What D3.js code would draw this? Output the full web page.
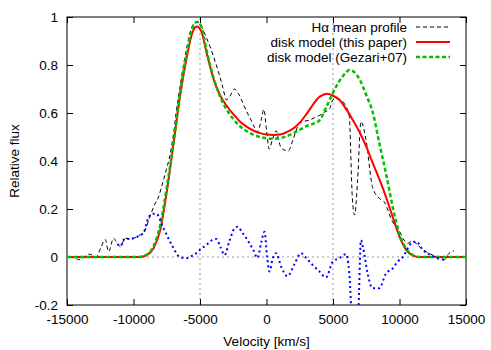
<!DOCTYPE html>
<html>
<head>
<meta charset="utf-8">
<script src="https://cdn.jsdelivr.net/npm/d3@7"></script>
<style>
  body { margin: 0; background: #fff; }
  text { font-family: "Liberation Sans", Arial, sans-serif; font-size: 13.5px; fill: #000; }
</style>
</head>
<body>
<script>
// values: [velocity km/s, relative flux]
const halpha = [
  [-14800, 0], [-14400, -0.005], [-14000, -0.012], [-13700, 0], [-13375, 0.012], [-13100, 0.008],
  [-12800, 0], [-12450, 0.04], [-12125, 0.073], [-11875, 0.022], [-11500, 0.078], [-11250, 0.06],
  [-11000, 0.043], [-10625, 0.078], [-10300, 0.075], [-10000, 0.078], [-9600, 0.09], [-9250, 0.1],
  [-9000, 0.13], [-8750, 0.17], [-8400, 0.22], [-8125, 0.25], [-7800, 0.31], [-7500, 0.37],
  [-7275, 0.42], [-7000, 0.51], [-6775, 0.61], [-6500, 0.71], [-6275, 0.79], [-6000, 0.87],
  [-5775, 0.93], [-5500, 0.97], [-5200, 0.98], [-4900, 0.96], [-4525, 0.915], [-4200, 0.87],
  [-3775, 0.8], [-3500, 0.75], [-3275, 0.705], [-3025, 0.655], [-2750, 0.67], [-2400, 0.7],
  [-2100, 0.68], [-1800, 0.645], [-1525, 0.61], [-1200, 0.575], [-900, 0.54], [-675, 0.52],
  [-400, 0.57], [-200, 0.615], [0, 0.53], [200, 0.45], [450, 0.49], [725, 0.526], [900, 0.49],
  [1100, 0.454], [1400, 0.445], [1650, 0.443], [2000, 0.49], [2475, 0.556], [2800, 0.565],
  [3225, 0.57], [3600, 0.58], [3975, 0.59], [4400, 0.605], [4725, 0.615], [4975, 0.654],
  [5200, 0.66], [5475, 0.657], [5850, 0.64], [6000, 0.625], [6225, 0.585], [6450, 0.25],
  [6625, 0.175], [6850, 0.32], [7100, 0.564], [7475, 0.49], [7975, 0.29], [8475, 0.245],
  [8850, 0.23], [9475, 0.147], [9975, 0.11], [10350, 0.07], [10600, 0.057], [11000, 0.068],
  [11350, 0.05], [11700, 0.035], [12000, 0.022], [12500, 0.008], [13000, 0], [13350, -0.012],
  [13725, 0.015], [14100, 0.026]
];

const diskThis = [
  [-15000, 0], [-9500, 0], [-9000, 0.008], [-8500, 0.035], [-8000, 0.11], [-7500, 0.27],
  [-7000, 0.47], [-6500, 0.67], [-6000, 0.83], [-5600, 0.93], [-5250, 0.96], [-4900, 0.94],
  [-4500, 0.85], [-4000, 0.745], [-3500, 0.675], [-3000, 0.63], [-2500, 0.595], [-2000, 0.565],
  [-1500, 0.543], [-1000, 0.527], [-500, 0.516], [0, 0.51], [500, 0.508], [1000, 0.51],
  [1500, 0.52], [2000, 0.535], [2500, 0.56], [3000, 0.595], [3500, 0.635], [4000, 0.668],
  [4600, 0.68], [5000, 0.672], [5500, 0.654], [6000, 0.615], [6500, 0.57], [7000, 0.52],
  [7500, 0.46], [8000, 0.39], [8500, 0.322], [9000, 0.248], [9500, 0.165], [10000, 0.085],
  [10500, 0.03], [11000, 0.007], [11500, 0], [15000, 0]
];

const diskGezari = [
  [-15000, 0], [-9600, 0], [-9000, 0.01], [-8500, 0.045], [-8000, 0.13], [-7500, 0.29],
  [-7000, 0.47], [-6500, 0.68], [-6000, 0.85], [-5600, 0.95], [-5200, 0.98], [-4900, 0.96],
  [-4500, 0.86], [-4000, 0.75], [-3500, 0.67], [-3000, 0.615], [-2500, 0.575], [-2000, 0.545],
  [-1500, 0.525], [-1000, 0.51], [-500, 0.5], [0, 0.495], [500, 0.493], [1000, 0.495],
  [1500, 0.503], [2000, 0.515], [2500, 0.53], [3000, 0.545], [3500, 0.555], [4000, 0.57],
  [4500, 0.625], [5000, 0.685], [5500, 0.735], [6000, 0.77], [6250, 0.78], [6600, 0.77],
  [7000, 0.74], [7500, 0.675], [8000, 0.6], [8500, 0.47], [9000, 0.345], [9500, 0.205],
  [10000, 0.095], [10500, 0.035], [11000, 0.008], [11500, 0], [15000, 0]
];

const residual = [
  [-11200, 0.055], [-11000, 0.045], [-10625, 0.078], [-10300, 0.075], [-10000, 0.078],
  [-9525, 0.09], [-9250, 0.1], [-8900, 0.16], [-8600, 0.18], [-8270, 0.18], [-7800, 0.126],
  [-7400, 0.08], [-7050, 0.043], [-6525, 0], [-6025, -0.005], [-5600, 0.005], [-5275, 0.016],
  [-4900, 0.035], [-4525, 0.05], [-4100, 0.07], [-3775, 0.075], [-3450, 0.04], [-3150, 0.008],
  [-2800, 0.065], [-2400, 0.12], [-2175, 0.126], [-1800, 0.1], [-1425, 0.07], [-1000, 0.03],
  [-675, -0.004], [-400, 0.06], [-150, 0.105], [50, 0], [225, -0.06], [450, -0.01], [725, 0.016],
  [1100, -0.04], [1575, -0.08], [2100, -0.03], [2600, 0.016], [3000, -0.005], [3500, -0.035],
  [3975, -0.06], [4475, -0.085], [4975, -0.02], [5475, -0.005], [5975, 0.012], [6225, -0.068],
  [6450, -0.3], [6650, -0.42], [6900, -0.25], [7100, 0.07], [7250, 0.043], [7600, -0.068],
  [7975, -0.13], [8475, -0.13], [8975, -0.07], [9500, -0.047], [9850, -0.02], [10250, 0],
  [10875, 0.057], [11250, 0.064], [11750, 0.03], [12500, 0.004], [13250, -0.01], [13500, -0.005]
];

const xTicks = [-15000, -10000, -5000, 0, 5000, 10000, 15000];
const yTicks = [-0.2, 0, 0.2, 0.4, 0.6, 0.8, 1];
const guidesX = [-5000, 5000];
const guidesY = [0];
const legendLabels = ["H\u03b1 mean profile", "disk model (this paper)", "disk model (Gezari+07)"];

const width = 491, height = 350;
const margin = {top: 17, right: 25, bottom: 45, left: 67};

const x = d3.scaleLinear().domain([-15000, 15000]).range([margin.left, width - margin.right]);
const y = d3.scaleLinear().domain([-0.2, 1]).range([height - margin.bottom, margin.top]);

const svg = d3.select("body").append("svg")
    .attr("width", width)
    .attr("height", height);

svg.append("clipPath").attr("id", "clip")
  .append("rect")
    .attr("x", x.range()[0]).attr("y", y.range()[1])
    .attr("width", x.range()[1] - x.range()[0])
    .attr("height", y.range()[0] - y.range()[1]);

// grey dotted guide lines
const guide = svg.append("g")
    .attr("stroke", "#999").attr("stroke-width", 1).attr("stroke-dasharray", "2,3");
guide.selectAll("line.gx").data(guidesX).enter().append("line")
    .attr("x1", x).attr("x2", x)
    .attr("y1", y.range()[0]).attr("y2", y.range()[1]);
guide.selectAll("line.gy").data(guidesY).enter().append("line")
    .attr("x1", x.range()[0]).attr("x2", x.range()[1])
    .attr("y1", y).attr("y2", y);

// axes, ticks point inwards and are mirrored
const fmtX = d => String(d);
const fmtY = d => String(+d.toFixed(1));

svg.append("g")
    .attr("transform", "translate(0," + y.range()[0] + ")")
    .call(d3.axisBottom(x).tickValues(xTicks).tickSize(-6).tickPadding(9).tickFormat(fmtX));
svg.append("g")
    .attr("transform", "translate(0," + y.range()[1] + ")")
    .call(d3.axisTop(x).tickValues(xTicks).tickSize(-6).tickFormat(""));
svg.append("g")
    .attr("transform", "translate(" + x.range()[0] + ",0)")
    .call(d3.axisLeft(y).tickValues(yTicks).tickSize(-6).tickPadding(9).tickFormat(fmtY));
svg.append("g")
    .attr("transform", "translate(" + x.range()[1] + ",0)")
    .call(d3.axisRight(y).tickValues(yTicks).tickSize(-6).tickFormat(""));

svg.selectAll(".domain").remove();
svg.selectAll(".tick text").style("font-size", "13.5px").style("font-family", "Liberation Sans, Arial, sans-serif");

svg.append("rect")
    .attr("x", x.range()[0]).attr("y", y.range()[1])
    .attr("width", x.range()[1] - x.range()[0])
    .attr("height", y.range()[0] - y.range()[1])
    .attr("fill", "none").attr("stroke", "#000");

const line = d3.line()
    .x(d => x(d[0]))
    .y(d => y(d[1]))
    .curve(d3.curveMonotoneX);

const plot = svg.append("g").attr("clip-path", "url(#clip)");

const series = [
  {data: halpha, color: "#000", width: 1, dash: "4,3"},
  {data: diskThis, color: "#f00", width: 2, dash: null},
  {data: diskGezari, color: "#00c000", width: 2.5, dash: "4,2.5"},
  {data: residual, color: "#0000ff", width: 2, dash: "2,3"}
];

plot.selectAll("path.s")
    .data(series)
  .enter().append("path")
    .attr("fill", "none")
    .attr("stroke", d => d.color)
    .attr("stroke-width", d => d.width)
    .attr("stroke-dasharray", d => d.dash)
    .attr("d", d => line(d.data));

// legend
const lg = svg.append("g")
  .selectAll("g")
    .data(legendLabels)
  .enter().append("g")
    .attr("transform", (d, i) => "translate(0," + (27 + i * 15) + ")");

lg.append("text")
    .attr("x", 407)
    .attr("dy", "0.35em")
    .style("text-anchor", "end")
    .text(d => d);

lg.append("line")
    .attr("x1", 416).attr("x2", 450)
    .attr("stroke", (d, i) => series[i].color)
    .attr("stroke-width", (d, i) => series[i].width)
    .attr("stroke-dasharray", (d, i) => series[i].dash);

svg.append("text")
    .attr("x", (x.range()[0] + x.range()[1]) / 2)
    .attr("y", 346)
    .style("text-anchor", "middle")
    .text("Velocity [km/s]");

svg.append("text")
    .attr("transform", "translate(19," + (y.range()[0] + y.range()[1]) / 2 + ") rotate(-90)")
    .style("text-anchor", "middle")
    .text("Relative flux");
</script>
</body>
</html>
